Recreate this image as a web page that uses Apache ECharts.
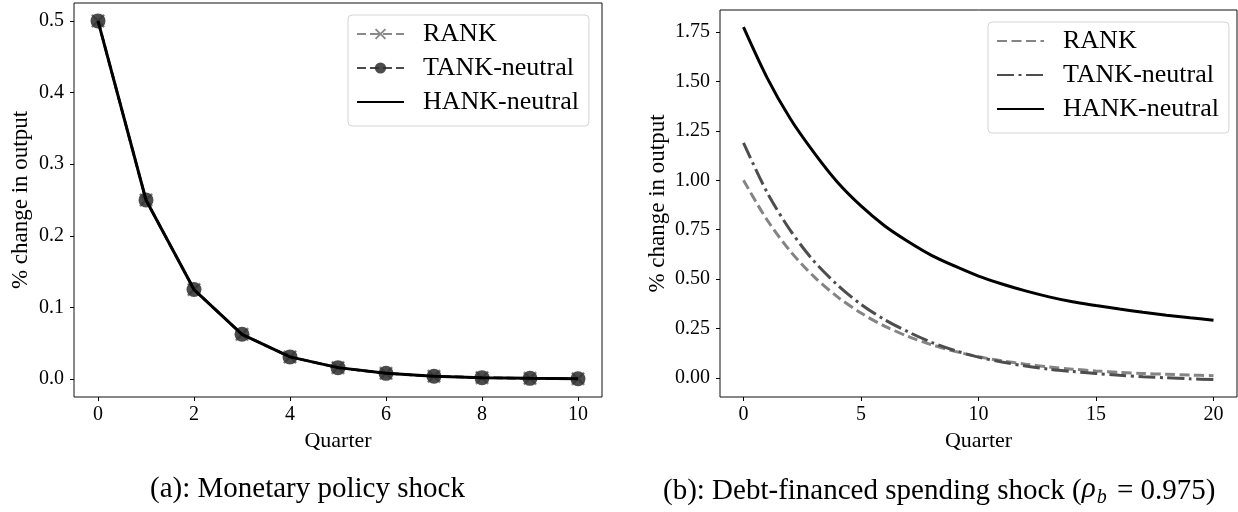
<!DOCTYPE html>
<html>
<head>
<meta charset="utf-8">
<script src="https://cdn.jsdelivr.net/npm/echarts@6/dist/echarts.min.js"></script>
<style>
  html, body { margin: 0; background: #fff; }
  #main { width: 1238px; height: 512px; }
</style>
</head>
<body>
<div id="main"></div>
<script>
// (a) monetary policy shock
var quarterA = [0, 1, 2, 3, 4, 5, 6, 7, 8, 9, 10];
var rankA = [0.5, 0.25, 0.125, 0.0625, 0.031, 0.016, 0.008, 0.004, 0.002, 0.001, 0.0005];
var tankA = [0.5, 0.25, 0.125, 0.0625, 0.031, 0.016, 0.008, 0.004, 0.002, 0.001, 0.0005];
var hankA = [0.5, 0.25, 0.125, 0.0625, 0.031, 0.016, 0.008, 0.004, 0.002, 0.001, 0.0005];
var xTicksA = [0, 2, 4, 6, 8, 10];
var yTicksA = [0, 0.1, 0.2, 0.3, 0.4, 0.5];

// (b) debt-financed spending shock
var quarterB = [0, 1, 2, 3, 4, 5, 6, 7, 8, 9, 10, 11, 12, 13, 14, 15, 16, 17, 18, 19, 20];
var rankB = [1.0, 0.8, 0.64, 0.512, 0.41, 0.328, 0.262, 0.21, 0.168, 0.134, 0.107, 0.086, 0.069, 0.055, 0.044, 0.035, 0.028, 0.022, 0.018, 0.014, 0.011];
var tankB = [1.19, 0.94, 0.745, 0.59, 0.47, 0.372, 0.295, 0.233, 0.18, 0.138, 0.105, 0.08, 0.06, 0.044, 0.032, 0.022, 0.013, 0.006, 0.0, -0.005, -0.009];
var hankB = [1.775, 1.52, 1.31, 1.14, 0.99, 0.87, 0.77, 0.69, 0.62, 0.565, 0.515, 0.475, 0.44, 0.41, 0.385, 0.366, 0.348, 0.332, 0.317, 0.304, 0.292];
var xTicksB = [0, 5, 10, 15, 20];
var yTicksB = [0, 0.25, 0.5, 0.75, 1.0, 1.25, 1.5, 1.75];

var captionA = "(a): Monetary policy shock";

var FONT = "'Liberation Serif', 'DejaVu Serif', serif";
var xMark = "path://M0,1.2L1.2,0L5,3.8L8.8,0L10,1.2L6.2,5L10,8.8L8.8,10L5,6.2L1.2,10L0,8.8L3.8,5Z";

function pairs(xs, ys) {
  return xs.map(function (x, i) { return [x, ys[i]]; });
}

(function () {
  var myChart = echarts.init(document.getElementById("main"));

  function xAxis(gridIndex, min, max, ticks) {
    return {
      type: "value",
      gridIndex: gridIndex,
      min: min,
      max: max,
      name: "Quarter",
      nameLocation: "middle",
      nameGap: 30,
      nameTextStyle: { fontFamily: FONT, fontSize: 22, color: "#000" },
      axisLine: { show: false, onZero: false },
      splitLine: { show: false },
      axisTick: { show: true, length: 4, customValues: ticks, lineStyle: { color: "#000" } },
      axisLabel: { customValues: ticks, fontFamily: FONT, fontSize: 20, color: "#000", margin: 8 }
    };
  }

  function yAxis(gridIndex, min, max, ticks, digits, gap) {
    return {
      type: "value",
      gridIndex: gridIndex,
      min: min,
      max: max,
      name: "% change in output",
      nameLocation: "middle",
      nameGap: gap,
      nameTextStyle: { fontFamily: FONT, fontSize: 23, color: "#000" },
      axisLine: { show: false, onZero: false },
      splitLine: { show: false },
      axisTick: { show: true, length: 4, customValues: ticks, lineStyle: { color: "#000" } },
      axisLabel: {
        customValues: ticks,
        fontFamily: FONT,
        fontSize: 20,
        color: "#000",
        margin: 10,
        formatter: function (v) { return v.toFixed(digits); }
      }
    };
  }

  function legend(left, top, items) {
    return {
      orient: "vertical",
      left: left,
      top: top,
      data: items,
      selectedMode: false,
      itemWidth: 47,
      itemHeight: 14,
      itemGap: 6,
      padding: [5, 10, 10, 8],
      borderColor: "#d4d4d4",
      borderWidth: 1,
      borderRadius: 4,
      backgroundColor: "rgba(255,255,255,0.8)",
      formatter: function (n) { return n.replace(" (b)", ""); },
      textStyle: { fontFamily: FONT, fontSize: 26, color: "#000", lineHeight: 28, padding: [0, 0, 0, 14] }
    };
  }

  var noMark = { opacity: 0 };

  var option = {
    animation: false,
    backgroundColor: "#fff",
    grid: [
      { left: 74, top: 3, width: 528, height: 394, show: true, borderColor: "#111", borderWidth: 1 },
      { left: 720, top: 10, width: 517, height: 387, show: true, borderColor: "#111", borderWidth: 1 }
    ],
    xAxis: [xAxis(0, -0.5, 10.5, xTicksA), xAxis(1, -1, 21, xTicksB)],
    yAxis: [yAxis(0, -0.025, 0.525, yTicksA, 1, 42), yAxis(1, -0.097, 1.862, yTicksB, 2, 51)],
    legend: [
      legend(348, 15, [
        { name: "RANK" },
        { name: "TANK-neutral" },
        { name: "HANK-neutral", itemStyle: noMark }
      ]),
      legend(988, 22, [
        { name: "RANK (b)", itemStyle: noMark },
        { name: "TANK-neutral (b)", itemStyle: noMark },
        { name: "HANK-neutral (b)", itemStyle: noMark }
      ])
    ],
    graphic: [
      {
        type: "text",
        left: 150,
        top: 475,
        style: { text: captionA, font: "29px " + FONT, fill: "#000" }
      },
      {
        type: "text",
        left: 663,
        top: 475,
        style: {
          text: "(b): Debt-financed spending shock ({i|ρ}{sub|b} = 0.975)",
          font: "29px " + FONT,
          fill: "#000",
          rich: {
            i: { fontFamily: FONT, fontSize: 29, fontStyle: "italic", verticalAlign: "top", lineHeight: 33 },
            sub: { fontFamily: FONT, fontSize: 20, fontStyle: "italic", verticalAlign: "top", lineHeight: 33, padding: [13, 3, 0, 1] }
          }
        }
      }
    ],
    series: [
      {
        name: "RANK",
        type: "line",
        xAxisIndex: 0,
        yAxisIndex: 0,
        data: pairs(quarterA, rankA),
        symbol: xMark,
        symbolSize: 14,
        itemStyle: { color: "#8a8a8a" },
        lineStyle: { color: "#8a8a8a", width: 2.5, type: [9, 4] },
        z: 2
      },
      {
        name: "TANK-neutral",
        type: "line",
        xAxisIndex: 0,
        yAxisIndex: 0,
        data: pairs(quarterA, tankA),
        symbol: "circle",
        symbolSize: 15,
        itemStyle: { color: "rgba(45,45,45,0.85)" },
        lineStyle: { color: "#4a4a4a", width: 2.5, type: [9, 4] },
        z: 3
      },
      {
        name: "HANK-neutral",
        type: "line",
        xAxisIndex: 0,
        yAxisIndex: 0,
        data: pairs(quarterA, hankA),
        symbol: "none",
        itemStyle: { color: "#000" },
        lineStyle: { color: "#000", width: 3 },
        z: 5
      },
      {
        name: "RANK (b)",
        type: "line",
        xAxisIndex: 1,
        yAxisIndex: 1,
        data: pairs(quarterB, rankB),
        symbol: "none",
        smooth: 0.3,
        itemStyle: { color: "#848484" },
        lineStyle: { color: "#848484", width: 3, type: [10, 4.5] },
        z: 2
      },
      {
        name: "TANK-neutral (b)",
        type: "line",
        xAxisIndex: 1,
        yAxisIndex: 1,
        data: pairs(quarterB, tankB),
        symbol: "none",
        smooth: 0.3,
        itemStyle: { color: "#4d4d4d" },
        lineStyle: { color: "#4d4d4d", width: 3, type: [17, 4.5, 3, 4.5] },
        z: 3
      },
      {
        name: "HANK-neutral (b)",
        type: "line",
        xAxisIndex: 1,
        yAxisIndex: 1,
        data: pairs(quarterB, hankB),
        symbol: "none",
        smooth: 0.3,
        itemStyle: { color: "#000" },
        lineStyle: { color: "#000", width: 3 },
        z: 4
      }
    ]
  };

  myChart.setOption(option);
  window.addEventListener("resize", function () {
    myChart.resize();
  });
})();
</script>
</body>
</html>
